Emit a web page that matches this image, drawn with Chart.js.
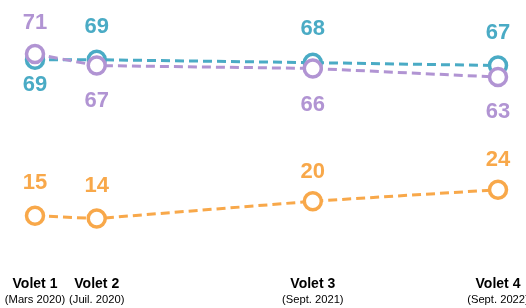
<!DOCTYPE html>
<html>
<head>
<meta charset="utf-8">
<script src="https://cdn.jsdelivr.net/npm/chart.js@4"></script>
<style>
html,body{margin:0;padding:0;background:#fff;overflow:hidden}
</style>
</head>
<body>
<canvas id="chart" width="526" height="308"></canvas>
<script>
// vagues d'enquête : position en mois depuis mars 2020
const volets = ["Volet 1","Volet 2","Volet 3","Volet 4"]
const dates = ["(Mars 2020)","(Juil. 2020)","(Sept. 2021)","(Sept. 2022)"]
const mois = [0,4,18,30]

const serieBleue = [69,69,68,67]
const serieViolette = [71,67,66,63]
const serieOrange = [15,14,20,24]

const BLEU = "#4AABC5"
const VIOLET = "#B194D3"
const ORANGE = "#F8A84A"

function pts(values){
return mois.map((m,i)=>({x:m,y:values[i]}))
}

// étiquettes de valeur : au-dessus (-) ou en dessous (+) du point
const valueLabels = {
id:"valueLabels",
afterDatasetsDraw(chart){
const ctx = chart.ctx
ctx.save()
ctx.font = "bold 22px 'Liberation Sans', Arial, sans-serif"
ctx.textAlign = "center"
ctx.textBaseline = "middle"
chart.data.datasets.forEach((ds,di)=>{
const meta = chart.getDatasetMeta(di)
meta.data.forEach((p,i)=>{
ctx.fillStyle = ds.borderColor
ctx.fillText(ds.data[i].y, p.x, p.y + ds.labelOffset[i])
})
})
ctx.restore()
}
}

// libellés de l'axe horizontal
const xLabels = {
id:"xLabels",
afterDraw(chart){
const ctx = chart.ctx
const x = chart.scales.x
ctx.save()
ctx.fillStyle = "#000"
ctx.textAlign = "center"
ctx.textBaseline = "middle"
mois.forEach((m,i)=>{
const px = x.getPixelForValue(m)
ctx.font = "bold 14px 'Liberation Sans', Arial, sans-serif"
ctx.fillText(volets[i], px, 284)
ctx.font = "11.2px 'Liberation Sans', Arial, sans-serif"
ctx.fillText(dates[i], px, 300)
})
ctx.restore()
}
}

function line(values,color,order,offsets){
return {
data:pts(values),
borderColor:color,
backgroundColor:"#fff",
borderWidth:3,
borderDash:[9,5],
pointRadius:8.5,
pointBorderWidth:3.5,
pointBackgroundColor:"#fff",
pointBorderColor:color,
tension:0,
clip:false,
order:order,
labelOffset:offsets
}
}

new Chart(document.getElementById("chart"),{
type:"line",
data:{
datasets:[
line(serieViolette,VIOLET,1,[-31,35,37,35]),
line(serieBleue,BLEU,2,[25,-33,-34,-33]),
line(serieOrange,ORANGE,3,[-33,-33,-29,-30])
]
},
options:{
responsive:false,
animation:false,
devicePixelRatio:1,
layout:{padding:{left:35,right:28,top:28,bottom:49}},
plugins:{legend:{display:false},tooltip:{enabled:false}},
scales:{
x:{type:"linear",min:0,max:30,display:false},
y:{min:0,max:80,display:false}
}
},
plugins:[valueLabels,xLabels]
})
</script>
</body>
</html>
